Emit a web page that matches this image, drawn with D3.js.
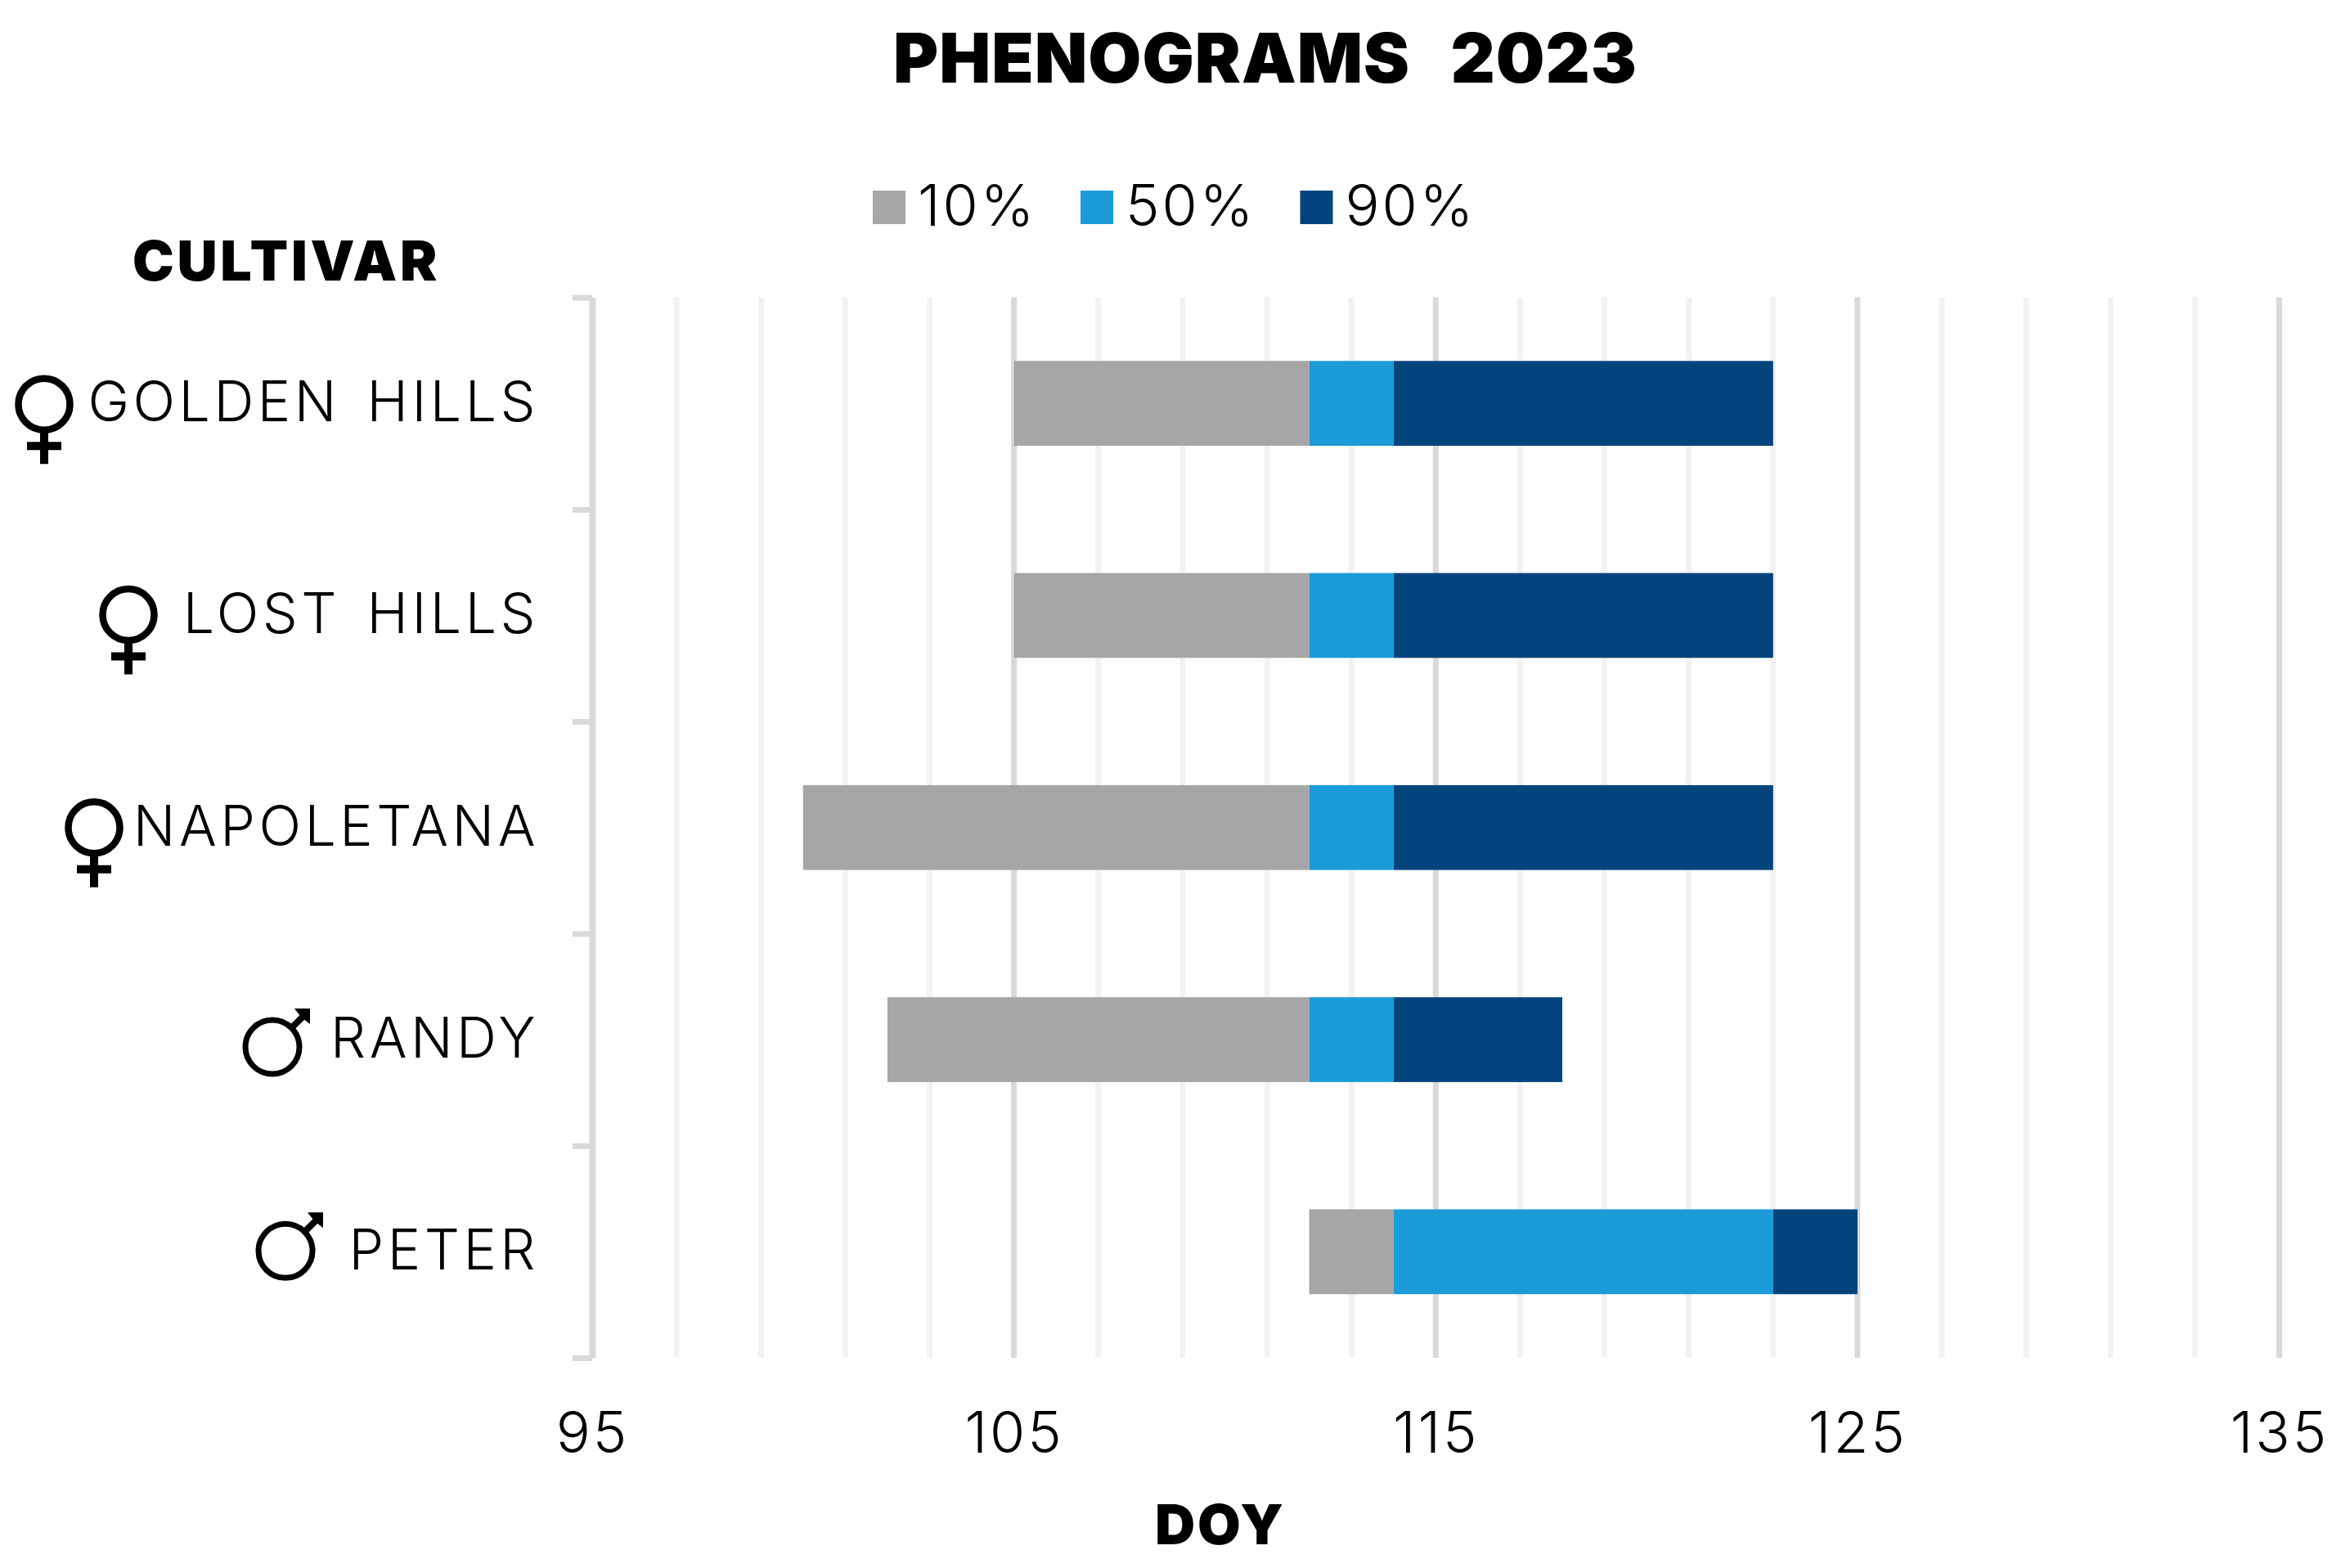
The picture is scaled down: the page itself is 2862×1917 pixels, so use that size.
<!DOCTYPE html>
<html>
<head>
<meta charset="utf-8">
<script src="https://cdn.jsdelivr.net/npm/d3@7"></script>
<style>
  html, body { margin: 0; padding: 0; background: #fff; }
  text { fill: #000; }
  .cat { font-family: Inter; font-weight: 300; font-size: 68px; letter-spacing: 4.5px; word-spacing: 9px; }
  .tick-label { font-family: Inter; font-weight: 300; font-size: 70px; letter-spacing: 3px; }
  .heavy { font-family: Inter; font-weight: 900; }
</style>
</head>
<body>
<div id="chart"></div>
<script>
// data: day of year where each stage starts and ends
var cultivars = ["GOLDEN HILLS", "LOST HILLS", "NAPOLETANA", "RANDY", "PETER"];
var sexes = ["F", "F", "F", "M", "M"];
var startDoy = [105, 105, 100, 102, 112];
var stage10 = [7, 7, 12, 10, 2];
var stage50 = [2, 2, 2, 2, 9];
var stage90 = [9, 9, 9, 4, 2];

var stageNames = ["10%", "50%", "90%"];
var stageColors = ["#a6a6a6", "#1b9bd8", "#02447b"];
var majorTicks = [95, 105, 115, 125, 135];
var minorTicks = [97, 99, 101, 103, 107, 109, 111, 113, 117, 119, 121, 123, 127, 129, 131, 133];

var width = 2862, height = 1917;
var margin = {top: 363.5, right: 75.5, bottom: 257, left: 724};
var plotW = width - margin.left - margin.right;
var plotH = height - margin.top - margin.bottom;

var svg = d3.select("#chart").append("svg")
    .attr("width", width)
    .attr("height", height)
    .style("display", "block");

var x = d3.scaleLinear().domain([95, 135]).range([margin.left, margin.left + plotW]);
var y = d3.scaleBand().domain(cultivars).range([margin.top, margin.top + plotH]).paddingInner(0.6).paddingOuter(0.3);
var yEdges = d3.scaleLinear().domain([0, cultivars.length]).range([margin.top, margin.top + plotH]);

// gridlines
svg.append("g").selectAll("line")
    .data(minorTicks)
    .enter().append("line")
    .attr("x1", function(d){ return x(d); })
    .attr("x2", function(d){ return x(d); })
    .attr("y1", margin.top)
    .attr("y2", margin.top + plotH)
    .attr("stroke", "#f2f2f2")
    .attr("stroke-width", 7);

svg.append("g").selectAll("line")
    .data(majorTicks.slice(1))
    .enter().append("line")
    .attr("x1", function(d){ return x(d); })
    .attr("x2", function(d){ return x(d); })
    .attr("y1", margin.top)
    .attr("y2", margin.top + plotH)
    .attr("stroke", "#d9d9d9")
    .attr("stroke-width", 7);

// category axis: only the line and the ticks between bands
var yAxis = svg.append("g")
    .attr("transform", "translate(" + margin.left + ",0)")
    .call(d3.axisLeft(yEdges).tickValues(d3.range(cultivars.length + 1)).tickSize(24).tickSizeOuter(0).tickFormat(""));
yAxis.selectAll("line").attr("stroke", "#d9d9d9").attr("stroke-width", 7);
yAxis.select(".domain").attr("stroke", "#d9d9d9").attr("stroke-width", 8);

// stacked bars, the first segment starts at startDoy
var stageValues = [stage10, stage50, stage90];
var rows = cultivars.map(function(name, i){
    var left = startDoy[i];
    return stageValues.map(function(vals, s){
        var seg = {name: name, stage: s, from: left, to: left + vals[i]};
        left = seg.to;
        return seg;
    });
});
svg.append("g").selectAll("rect")
    .data(d3.merge(rows))
    .enter().append("rect")
    .attr("x", function(d){ return x(d.from); })
    .attr("y", function(d){ return y(d.name); })
    .attr("width", function(d){ return x(d.to) - x(d.from); })
    .attr("height", y.bandwidth())
    .attr("fill", function(d){ return stageColors[d.stage]; });

// x axis labels
var xAxis = svg.append("g")
    .attr("transform", "translate(0," + (margin.top + plotH) + ")")
    .call(d3.axisBottom(x).tickValues(majorTicks).tickSize(0).tickPadding(116).tickFormat(d3.format("d")));
xAxis.select(".domain").remove();
xAxis.selectAll("text").attr("class", "tick-label").attr("dy", 0);

// category labels
svg.append("g").selectAll("text")
    .data(cultivars)
    .enter().append("text")
    .attr("class", "cat")
    .attr("text-anchor", "end")
    .attr("x", 659)
    .attr("y", function(d){ return y(d) + y.bandwidth() / 2 + 22; })
    .text(function(d){ return d; });

// venus and mars signs, left of the labels
var symbolX = [54, 157, 115, 333, 349];
var symbolDy = [1, -1, 0, 9, -1];
var symbols = svg.append("g").attr("fill", "none").attr("stroke", "#000");
cultivars.forEach(function(name, i){
    var cy = y(name) + y.bandwidth() / 2 + symbolDy[i];
    var g = symbols.append("g").attr("transform", "translate(" + symbolX[i] + "," + cy + ")");
    if (sexes[i] == "F") {
        g.append("circle").attr("r", 31.5).attr("stroke-width", 8.5);
        g.append("path").attr("d", "M0,34V73M-21,51H21").attr("stroke-width", 10);
    } else {
        g.append("circle").attr("r", 33).attr("stroke-width", 7);
        g.append("path").attr("d", "M23,-23L38,-38").attr("stroke-width", 8);
        g.append("path").attr("d", "M46,-47L27,-47L34,-38L37,-35L46,-28Z").attr("fill", "#000").attr("stroke", "none");
    }
});

// legend
var legendSwatch = [1067, 1321, 1589.5];
var legend = svg.append("g").selectAll("g")
    .data(stageNames)
    .enter().append("g")
    .attr("transform", function(d, i){ return "translate(" + legendSwatch[i] + ",233)"; });
legend.append("rect")
    .attr("width", 40)
    .attr("height", 41)
    .attr("fill", function(d, i){ return stageColors[i]; });
legend.append("text")
    .attr("class", "tick-label")
    .attr("x", 55)
    .attr("y", 43)
    .text(function(d){ return d; });

// titles
svg.append("text").attr("class", "heavy")
    .attr("x", 1547).attr("y", 101)
    .attr("text-anchor", "middle")
    .attr("font-size", 84)
    .attr("letter-spacing", 1)
    .attr("word-spacing", 7)
    .style("white-space", "pre")
    .text("PHENOGRAMS  2023");
svg.append("text").attr("class", "heavy")
    .attr("x", 162).attr("y", 343)
    .attr("font-size", 68)
    .attr("letter-spacing", 3.7)
    .text("CULTIVAR");
svg.append("text").attr("class", "heavy")
    .attr("x", 1492).attr("y", 1888)
    .attr("text-anchor", "middle")
    .attr("font-size", 68)
    .attr("letter-spacing", 3)
    .text("DOY");
</script>
</body>
</html>
